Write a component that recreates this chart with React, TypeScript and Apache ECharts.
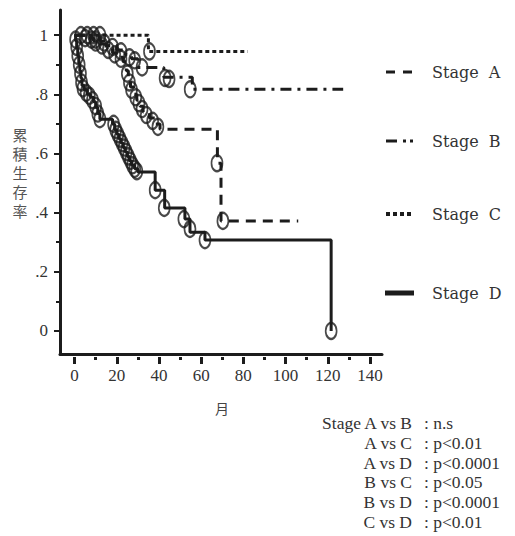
import React, { useEffect, useRef } from "react";
import * as echarts from "echarts";

// ---- axis ticks ----
const xTickLabels = [0, 20, 40, 60, 80, 100, 120, 140];
const xMinorTicks = [10, 30, 50, 70, 90, 110, 130];
const yTickLabels = [0, 0.2, 0.4, 0.6, 0.8, 1];
const yMinorTicks = [0.1, 0.3, 0.5, 0.7, 0.9];

// ---- Stage A (dashed) ----
const stageAMonths = [0, 6, 9, 12, 15, 18, 21, 23, 24.5, 25.5, 26.5, 28, 29.5, 31, 32.5, 35.5, 38.5, 40.5, 67.7, 69.4, 106];
const stageASurvival = [1, 0.99, 0.98, 0.97, 0.955, 0.94, 0.925, 0.91, 0.88, 0.855, 0.825, 0.8, 0.78, 0.76, 0.74, 0.72, 0.7, 0.682, 0.567, 0.372, 0.372];
const stageACensorMonths = [5, 8, 10, 13, 16, 19, 22, 25, 26, 27, 29, 30.5, 32, 34, 37, 39.5, 67.5, 70.3];
const stageACensorSurvival = [0.99, 0.985, 0.975, 0.965, 0.95, 0.935, 0.92, 0.87, 0.84, 0.815, 0.79, 0.77, 0.75, 0.73, 0.71, 0.69, 0.567, 0.372];

// ---- Stage B (dash-dot) ----
const stageBMonths = [0, 8, 12, 16, 20, 24, 27, 30, 42.3, 55.8, 127.3];
const stageBSurvival = [1, 0.99, 0.98, 0.965, 0.95, 0.935, 0.92, 0.891, 0.858, 0.817, 0.817];
const stageBCensorMonths = [10, 14, 18, 22, 26, 28.5, 32, 42.9, 44.8, 54.8];
const stageBCensorSurvival = [0.985, 0.975, 0.96, 0.945, 0.925, 0.915, 0.891, 0.855, 0.852, 0.817];

// ---- Stage C (dotted) ----
const stageCMonths = [0, 35, 82];
const stageCSurvival = [1, 0.945, 0.945];
const stageCCensorMonths = [3, 6, 9, 12, 35.5];
const stageCCensorSurvival = [1, 1, 1, 1, 0.945];

// ---- Stage D (solid) ----
const stageDMonths = [0, 0.5, 1, 1.5, 2, 2.5, 3, 3.5, 4.5, 6, 7.5, 9, 10, 11, 12, 18, 19, 20, 21, 22, 23, 24, 25, 26, 27, 28.5, 30, 38.2, 42.7, 52.3, 54.7, 61.8, 121.6];
const stageDSurvival = [1, 0.98, 0.955, 0.93, 0.905, 0.88, 0.855, 0.83, 0.815, 0.8, 0.79, 0.775, 0.755, 0.735, 0.716, 0.7, 0.68, 0.665, 0.65, 0.635, 0.62, 0.605, 0.59, 0.575, 0.56, 0.548, 0.537, 0.476, 0.416, 0.378, 0.334, 0.307, 0];
const stageDCensorMonths = [0.5, 1, 1.5, 2.2, 2.8, 3.3, 4, 5.5, 7, 8.5, 10, 11, 12, 18.5, 19.5, 20.5, 21.5, 22.5, 23.5, 24.5, 25.5, 26.5, 27.5, 28.5, 29.5, 38.2, 42.5, 51.8, 54.7, 61.8, 121.6];
const stageDCensorSurvival = [0.985, 0.96, 0.93, 0.9, 0.87, 0.84, 0.82, 0.805, 0.795, 0.78, 0.76, 0.735, 0.716, 0.7, 0.68, 0.665, 0.65, 0.635, 0.62, 0.605, 0.59, 0.575, 0.56, 0.548, 0.54, 0.476, 0.416, 0.378, 0.345, 0.307, 0];

// ---- texts ----
const legendNames = ["Stage  A", "Stage  B", "Stage  C", "Stage  D"];
const comparisons = ["Stage A vs B", "A vs C", "A vs D", "B vs C", "B vs D", "C vs D"];
const pValues = [": n.s", ": p<0.01", ": p<0.0001", ": p<0.05", ": p<0.0001", ": p<0.01"];
const yAxisName = "累積生存率";
const xAxisName = "月";

const INK = "#1c1c1c";
const TXT = "#333";
const SERIF = "'Liberation Serif', 'DejaVu Serif', serif";
const WIDE_SERIF = "'DejaVu Serif', serif";
const CJK = "'Noto Sans CJK JP', sans-serif";

const X_MIN = -6.9, X_MAX = 145.7, Y_MIN = -0.078, Y_MAX = 1.085;

const zip = (a: number[], b: number[]) => a.map((v, i) => [v, b[i]]);

export default function App() {
  const ref = useRef<HTMLDivElement>(null);
  useEffect(() => {
    document.body.style.margin = "0";
    const chart = echarts.init(ref.current!, null, { renderer: "svg" });

    const stepLine = (name: string, m: number[], s: number[], type: any) => ({
      name, type: "line", step: "end", data: zip(m, s), showSymbol: false, symbol: "none",
      lineStyle: { color: INK, width: 3, type, cap: "butt" }, z: 3,
    });
    const censor = (m: number[], s: number[]) => ({
      type: "scatter", data: zip(m, s), symbol: "circle", symbolSize: [11, 16],
      itemStyle: { color: "rgba(0,0,0,0)", borderColor: INK, borderWidth: 2 }, z: 4,
    });

    const legendY = [72, 141, 214, 293];
    const graphic: any[] = [];
    // legend samples
    graphic.push({ type: "line", shape: { x1: 386, y1: legendY[0], x2: 413, y2: legendY[0] }, style: { stroke: INK, lineWidth: 3, lineDash: [9, 8] } });
    graphic.push({ type: "line", shape: { x1: 386, y1: legendY[1], x2: 397, y2: legendY[1] }, style: { stroke: INK, lineWidth: 3 } });
    graphic.push({ type: "rect", shape: { x: 403, y: legendY[1] - 1.5, width: 3, height: 3 }, style: { fill: INK } });
    graphic.push({ type: "rect", shape: { x: 410, y: legendY[1] - 1.5, width: 3, height: 3 }, style: { fill: INK } });
    [386, 393, 400, 407].forEach((x) =>
      graphic.push({ type: "rect", shape: { x, y: legendY[2] - 2, width: 4, height: 4 }, style: { fill: INK } })
    );
    graphic.push({ type: "rect", shape: { x: 385, y: legendY[3] - 2.5, width: 29, height: 5 }, style: { fill: INK } });
    legendNames.forEach((n, i) =>
      graphic.push({ type: "text", x: 432, y: legendY[i], style: { text: n, fontFamily: WIDE_SERIF, fontSize: 16, fill: TXT, align: "left", verticalAlign: "middle" } })
    );
    // axis names
    graphic.push({ type: "text", x: 20, y: 172, style: { text: yAxisName.split("").join("\n"), fontFamily: CJK, fontSize: 15, lineHeight: 19, fill: "#555", align: "center", verticalAlign: "middle" } });
    graphic.push({ type: "text", x: 222, y: 408, style: { text: xAxisName, fontFamily: CJK, fontSize: 14, fill: "#444", align: "center", verticalAlign: "middle" } });
    // comparisons
    comparisons.forEach((c, i) => {
      const y = 423 + i * 19.8;
      graphic.push({ type: "text", x: 412, y, style: { text: c, fontFamily: SERIF, fontSize: 17.5, fill: TXT, align: "right", verticalAlign: "middle" } });
      graphic.push({ type: "text", x: 424, y, style: { text: pValues[i], fontFamily: SERIF, fontSize: 17.5, fill: TXT, align: "left", verticalAlign: "middle" } });
    });

    const xBase = { type: "value", min: X_MIN, max: X_MAX, position: "bottom", splitLine: { show: false } };
    const yBase = { type: "value", min: Y_MIN, max: Y_MAX, position: "left", splitLine: { show: false } };

    chart.setOption({
      animation: false,
      grid: { left: 60, top: 10, width: 322, height: 344, containLabel: false },
      xAxis: [
        { ...xBase, axisLine: { show: true, onZero: false, lineStyle: { color: INK, width: 3 } }, axisTick: { show: false },
          axisLabel: { customValues: xTickLabels, margin: 13, fontFamily: SERIF, fontSize: 17, color: TXT } },
        { ...xBase, offset: 3, axisLine: { show: false, onZero: false }, axisLabel: { show: false },
          axisTick: { show: true, customValues: xTickLabels, length: 7, lineStyle: { color: INK, width: 3 } } },
        { ...xBase, offset: 3, axisLine: { show: false, onZero: false }, axisLabel: { show: false },
          axisTick: { show: true, customValues: xMinorTicks, length: 3, lineStyle: { color: INK, width: 3 } } },
      ],
      yAxis: [
        { ...yBase, axisLine: { show: true, onZero: false, lineStyle: { color: INK, width: 3 } },
          axisTick: { show: true, customValues: yTickLabels, length: 6, lineStyle: { color: INK, width: 2 } },
          axisLabel: { customValues: yTickLabels, margin: 12, fontFamily: SERIF, fontSize: 17, color: TXT,
            formatter: (v: number) => (v === 0 ? "0" : v === 1 ? "1" : "." + Math.round(v * 10)) } },
        { ...yBase, offset: 0, axisLine: { show: false, onZero: false }, axisLabel: { show: false },
          axisTick: { show: true, customValues: yMinorTicks, length: 4, lineStyle: { color: INK, width: 2 } } },
      ],
      series: [
        stepLine("Stage A", stageAMonths, stageASurvival, [10, 7]),
        stepLine("Stage B", stageBMonths, stageBSurvival, [11, 6, 3, 6]),
        stepLine("Stage C", stageCMonths, stageCSurvival, [4, 3]),
        stepLine("Stage D", stageDMonths, stageDSurvival, "solid"),
        censor(stageACensorMonths, stageACensorSurvival),
        censor(stageBCensorMonths, stageBCensorSurvival),
        censor(stageCCensorMonths, stageCCensorSurvival),
        censor(stageDCensorMonths, stageDCensorSurvival),
      ],
      graphic,
    });
    return () => chart.dispose();
  }, []);
  return <div ref={ref} style={{ width: 515, height: 536 }} />;
}
